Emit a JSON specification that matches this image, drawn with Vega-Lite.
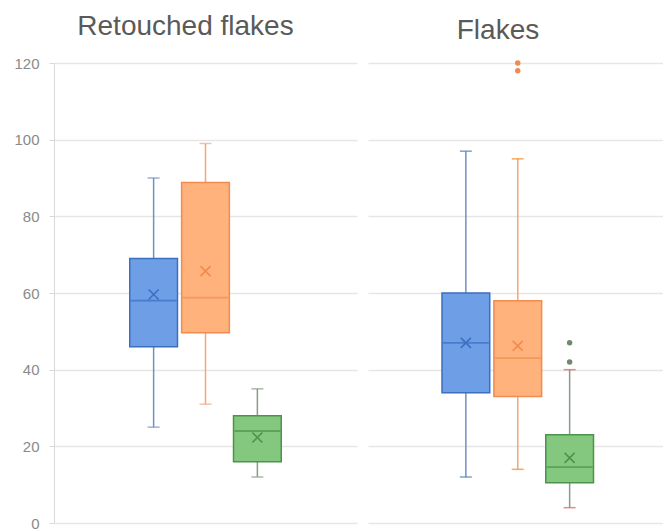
{
  "$schema": "https://vega.github.io/schema/vega-lite/v6.json",
  "padding": {"left": 13, "top": 13, "right": 0, "bottom": 0},
  "background": "white",
  "config": {
    "view": {"stroke": null},
    "font": "Liberation Sans",
    "title": {"fontSize": 28, "fontWeight": "normal", "color": "#5a5a5a", "offset": 15, "anchor": "middle"},
    "axis": {"gridColor": "#e6e6e6", "gridWidth": 1.5, "labelColor": "#8a8a8a", "labelFontSize": 15, "domainColor": "#d9d9d9", "tickColor": "#d9d9d9", "tickSize": 5, "labelPadding": 10, "title": null}
  },
  "datasets": {
    "boxes": [
      {"panel": "Retouched flakes", "series": "Series 1", "lower": 25, "q1": 46, "median": 58, "q3": 69, "upper": 90, "mean": 59.6},
      {"panel": "Retouched flakes", "series": "Series 2", "lower": 31, "q1": 49.6, "median": 58.8, "q3": 88.8, "upper": 99, "mean": 65.7},
      {"panel": "Retouched flakes", "series": "Series 3", "lower": 12, "q1": 16, "median": 24, "q3": 28, "upper": 35, "mean": 22.3},
      {"panel": "Flakes", "series": "Series 1", "lower": 12, "q1": 34, "median": 47, "q3": 60, "upper": 97, "mean": 47},
      {"panel": "Flakes", "series": "Series 2", "lower": 14, "q1": 33, "median": 43, "q3": 58, "upper": 95, "mean": 46.2},
      {"panel": "Flakes", "series": "Series 3", "lower": 4, "q1": 10.5, "median": 14.6, "q3": 23, "upper": 40, "mean": 17}
    ],
    "outliers": [
      {"panel": "Flakes", "series": "Series 2", "value": 118},
      {"panel": "Flakes", "series": "Series 2", "value": 120},
      {"panel": "Flakes", "series": "Series 3", "value": 42},
      {"panel": "Flakes", "series": "Series 3", "value": 47}
    ]
  },
  "hconcat": [
    {
      "width": 303,
      "height": 460,
      "title": {"text": "Retouched flakes", "dx": -20},
      "data": {"name": "boxes"},
      "transform": [{"filter": "datum.panel === 'Retouched flakes'"}],
      "encoding": {
        "x": {"field": "panel", "type": "nominal", "scale": {"paddingInner": 0, "paddingOuter": 0.5}, "axis": null},
        "xOffset": {"field": "series", "type": "nominal", "scale": {"domain": ["Series 1", "Series 2", "Series 3"], "paddingInner": 0.08, "paddingOuter": 0}}
      },
      "layer": [
        {
          "mark": {"type": "rule", "strokeWidth": 1.5},
          "encoding": {
            "y": {"field": "lower", "type": "quantitative", "scale": {"domain": [0, 120]}, "axis": {"values": [0, 20, 40, 60, 80, 100, 120], "grid": true}},
            "y2": {"field": "upper"},
            "color": {"field": "series", "type": "nominal", "scale": {"domain": ["Series 1", "Series 2", "Series 3"], "range": ["#6f8fc6", "#f4a57a", "#8a9a88"]}, "legend": null}
          }
        },
        {
          "mark": {"type": "tick", "size": 12, "thickness": 1.5},
          "encoding": {
            "y": {"field": "lower", "type": "quantitative"},
            "color": {"field": "series", "type": "nominal", "legend": null}
          }
        },
        {
          "mark": {"type": "tick", "size": 12, "thickness": 1.5},
          "encoding": {
            "y": {"field": "upper", "type": "quantitative"},
            "color": {"field": "series", "type": "nominal", "legend": null}
          }
        },
        {
          "mark": {"type": "bar", "strokeWidth": 1.5, "fillOpacity": 1},
          "encoding": {
            "y": {"field": "q1", "type": "quantitative"},
            "y2": {"field": "q3"},
            "fill": {"field": "series", "type": "nominal", "scale": {"domain": ["Series 1", "Series 2", "Series 3"], "range": ["#6d9ee6", "#ffb27c", "#84c77e"]}, "legend": null},
            "stroke": {"field": "series", "type": "nominal", "scale": {"domain": ["Series 1", "Series 2", "Series 3"], "range": ["#3b6fbf", "#f28b4d", "#4b944a"]}, "legend": null}
          }
        },
        {
          "mark": {"type": "tick", "size": 46, "thickness": 1.8},
          "encoding": {
            "y": {"field": "median", "type": "quantitative"},
            "fill": {"field": "series", "type": "nominal", "scale": {"domain": ["Series 1", "Series 2", "Series 3"], "range": ["#3b6fbf", "#f28b4d", "#4b944a"]}, "legend": null}
          }
        },
        {
          "mark": {"type": "point", "shape": "M-1,-1L1,1M-1,1L1,-1", "filled": false, "size": 100, "strokeWidth": 1.6, "opacity": 1},
          "encoding": {
            "y": {"field": "mean", "type": "quantitative"},
            "stroke": {"field": "series", "type": "nominal", "legend": null}
          }
        }
      ],
      "resolve": {"scale": {"fill": "independent"}}
    },
    {
      "width": 296,
      "height": 460,
      "title": {"text": "Flakes", "dx": -18},
      "encoding": {
        "x": {"field": "panel", "type": "nominal", "scale": {"paddingInner": 0, "paddingOuter": 0.5}, "axis": null},
        "xOffset": {"field": "series", "type": "nominal", "scale": {"domain": ["Series 1", "Series 2", "Series 3"], "paddingInner": 0.08, "paddingOuter": 0}}
      },
      "layer": [
        {
          "data": {"name": "boxes"},
          "transform": [{"filter": "datum.panel === 'Flakes'"}],
          "mark": {"type": "rule", "strokeWidth": 1.5},
          "encoding": {
            "y": {"field": "lower", "type": "quantitative", "scale": {"domain": [0, 120]}, "axis": {"values": [0, 20, 40, 60, 80, 100, 120], "grid": true, "labels": false, "ticks": false, "domain": false}},
            "y2": {"field": "upper"},
            "color": {"field": "series", "type": "nominal", "scale": {"domain": ["Series 1", "Series 2", "Series 3"], "range": ["#6f8fc6", "#f4a57a", "#8a9a88"]}, "legend": null}
          }
        },
        {
          "data": {"name": "boxes"},
          "transform": [{"filter": "datum.panel === 'Flakes'"}],
          "mark": {"type": "tick", "size": 12, "thickness": 1.5},
          "encoding": {
            "y": {"field": "lower", "type": "quantitative"},
            "color": {"field": "series", "type": "nominal", "legend": null}
          }
        },
        {
          "data": {"name": "boxes"},
          "transform": [{"filter": "datum.panel === 'Flakes'"}],
          "mark": {"type": "tick", "size": 12, "thickness": 1.5},
          "encoding": {
            "y": {"field": "upper", "type": "quantitative"},
            "color": {"field": "series", "type": "nominal", "legend": null}
          }
        },
        {
          "data": {"name": "boxes"},
          "transform": [{"filter": "datum.panel === 'Flakes'"}],
          "mark": {"type": "bar", "strokeWidth": 1.5, "fillOpacity": 1},
          "encoding": {
            "y": {"field": "q1", "type": "quantitative"},
            "y2": {"field": "q3"},
            "fill": {"field": "series", "type": "nominal", "scale": {"domain": ["Series 1", "Series 2", "Series 3"], "range": ["#6d9ee6", "#ffb27c", "#84c77e"]}, "legend": null},
            "stroke": {"field": "series", "type": "nominal", "scale": {"domain": ["Series 1", "Series 2", "Series 3"], "range": ["#3b6fbf", "#f28b4d", "#4b944a"]}, "legend": null}
          }
        },
        {
          "data": {"name": "boxes"},
          "transform": [{"filter": "datum.panel === 'Flakes'"}],
          "mark": {"type": "tick", "size": 46, "thickness": 1.8},
          "encoding": {
            "y": {"field": "median", "type": "quantitative"},
            "fill": {"field": "series", "type": "nominal", "scale": {"domain": ["Series 1", "Series 2", "Series 3"], "range": ["#3b6fbf", "#f28b4d", "#4b944a"]}, "legend": null}
          }
        },
        {
          "data": {"name": "boxes"},
          "transform": [{"filter": "datum.panel === 'Flakes'"}],
          "mark": {"type": "point", "shape": "M-1,-1L1,1M-1,1L1,-1", "filled": false, "size": 100, "strokeWidth": 1.6, "opacity": 1},
          "encoding": {
            "y": {"field": "mean", "type": "quantitative"},
            "stroke": {"field": "series", "type": "nominal", "legend": null}
          }
        },
        {
          "data": {"name": "outliers"},
          "transform": [{"filter": "datum.panel === 'Flakes'"}],
          "mark": {"type": "point", "shape": "circle", "filled": true, "size": 30, "opacity": 1},
          "encoding": {
            "y": {"field": "value", "type": "quantitative"},
            "color": {"field": "series", "type": "nominal", "scale": {"domain": ["Series 1", "Series 2", "Series 3"], "range": ["#6f8fc6", "#f08a50", "#6f8a6d"]}, "legend": null}
          }
        }
      ],
      "resolve": {"scale": {"fill": "independent", "color": "independent"}}
    }
  ],
  "spacing": 11
}
